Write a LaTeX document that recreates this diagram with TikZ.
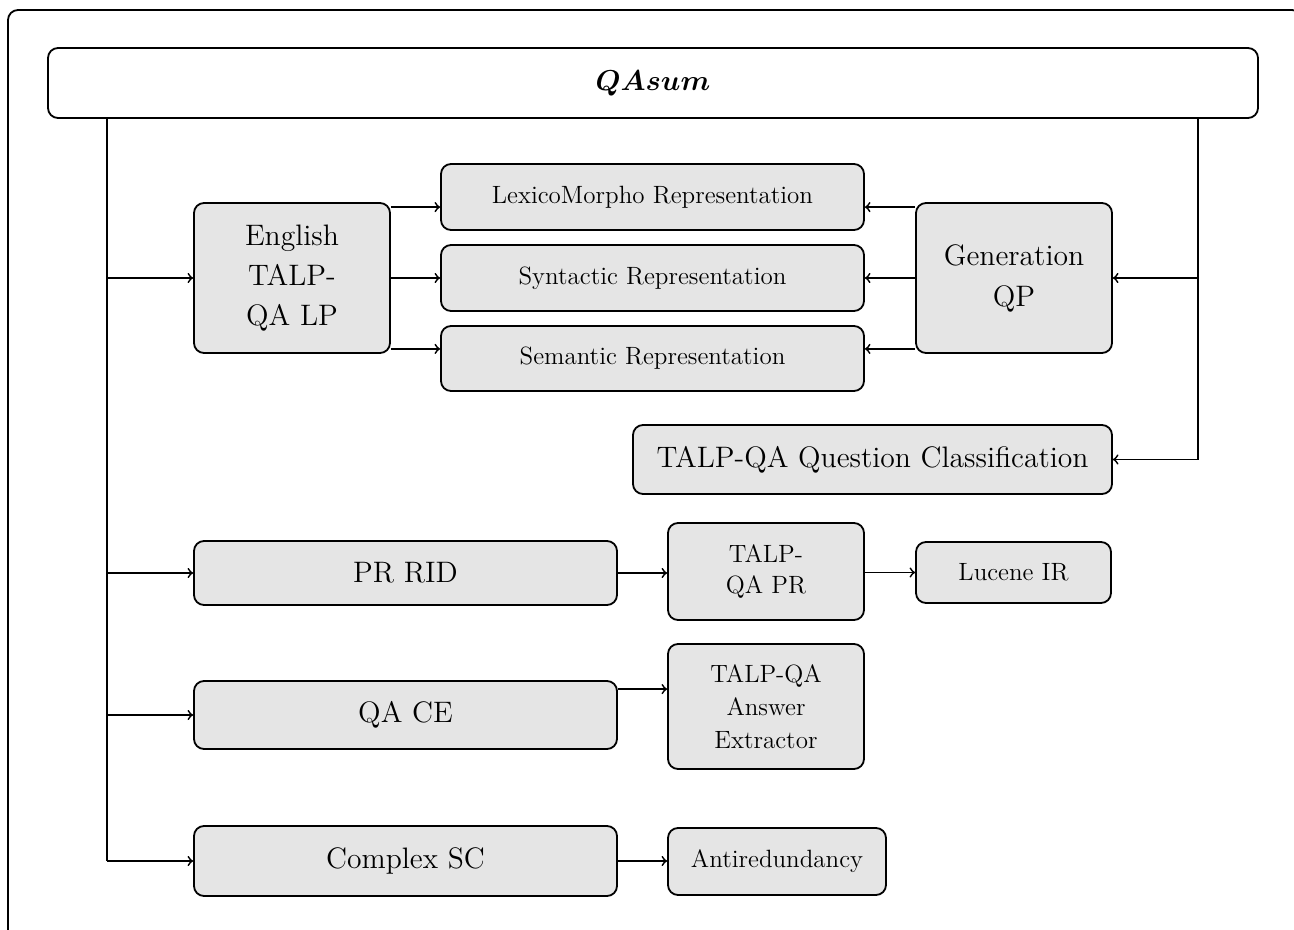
\documentclass[tikz,border=0pt]{standalone}
\usepackage{bm}
\begin{document}
\begin{tikzpicture}[x=0.5pt,y=-0.5pt,
  box/.style={draw, fill=gray!20, rounded corners=5pt, line width=0.9pt, align=center, inner sep=0pt},
  big/.style={font=\fontsize{14.8}{20}\selectfont},
  small/.style={font=\fontsize{12.5}{16}\selectfont},
  arr/.style={->, line width=0.9pt},
  trunk/.style={line width=1.3pt}]
\useasboundingbox (0,0) rectangle (1294,930);
\clip (0,0) rectangle (1294,930);
\draw[line width=0.9pt, rounded corners=5pt] (8,10) rectangle (1302,948);
% nodes
\node[box, fill=white, minimum width=605pt, minimum height=35pt, font=\fontsize{13.4}{16}\selectfont] (title) at (653,83) {$\bm{QAsum}$};
\node[box, big, minimum width=98pt, minimum height=75pt] (eng) at (292,278) {English\\TALP-\\QA LP};
\node[box, small, minimum width=211.5pt, minimum height=33pt] (lex) at (652.5,197) {LexicoMorpho Representation};
\node[box, small, minimum width=211.5pt, minimum height=33pt] (syn) at (652.5,278) {Syntactic Representation};
\node[box, small, minimum width=211.5pt, minimum height=32.5pt] (sem) at (652.5,358.5) {Semantic Representation};
\node[box, font=\fontsize{14.8}{20.5}\selectfont, minimum width=98pt, minimum height=75pt] (gen) at (1014,278) {Generation\\QP};
\node[box, big, minimum width=239.5pt, minimum height=34.5pt] (qc) at (872.5,459.5) {TALP-QA Question Classification};
\node[box, big, minimum width=211.5pt, minimum height=32pt] (prrid) at (405.5,573) {PR RID};
\node[box, font=\fontsize{12.5}{15.5}\selectfont, minimum width=98pt, minimum height=48.5pt] (tpr) at (766,571.5) {TALP-\\QA PR};
\node[box, small, minimum width=97.5pt, minimum height=30.5pt] (luc) at (1013.5,572.5) {Lucene IR};
\node[box, big, minimum width=211.5pt, minimum height=34pt] (qace) at (405.5,715) {QA CE};
\node[box, font=\fontsize{12.5}{16.5}\selectfont, minimum width=98pt, minimum height=62.5pt] (ext) at (766,706.5) {TALP-QA\\Answer\\Extractor};
\node[box, big, minimum width=211.5pt, minimum height=35pt] (csc) at (405.5,861) {Complex SC};
\node[box, small, minimum width=109pt, minimum height=33.5pt] (anti) at (777,861.5) {Antiredundancy};
% trunks
\coordinate (lt) at (107,118);
\coordinate (rt) at (1198,118);
\draw[trunk] (lt) -- (lt |- csc.west);
\draw[trunk] (rt) -- (rt |- qc.east);
\draw[arr] (lt |- eng.west) -- (eng.west);
\draw[arr] (lt |- prrid.west) -- (prrid.west);
\draw[arr] (lt |- qace.west) -- (qace.west);
\draw[arr] (lt |- csc.west) -- (csc.west);
\draw[arr] (rt |- gen.east) -- (gen.east);
\draw[arr] (rt |- qc.east) -- (qc.east);
% english branch
\coordinate (e1) at ([yshift=-2.5pt]eng.north east);
\coordinate (e3) at ([yshift=2.5pt]eng.south east);
\draw[arr] (e1) -- (e1 -| lex.west);
\draw[arr] (eng.east) -- (syn.west);
\draw[arr] (e3) -- (e3 -| sem.west);
% generation branch
\coordinate (g1) at ([yshift=-2.5pt]gen.north west);
\coordinate (g3) at ([yshift=2.5pt]gen.south west);
\draw[arr] (g1) -- (g1 -| lex.east);
\draw[arr] (gen.west) -- (syn.east);
\draw[arr] (g3) -- (g3 -| sem.east);
% lower rows
\draw[arr] (prrid.east) -- (prrid.east -| tpr.west);
\draw[arr] (tpr.east |- luc.west) -- (luc.west);
\coordinate (q1) at ([yshift=-4.5pt]qace.north east);
\draw[arr] (q1) -- (q1 -| ext.west);
\draw[arr] (csc.east) -- (csc.east -| anti.west);
\end{tikzpicture}
\end{document}
